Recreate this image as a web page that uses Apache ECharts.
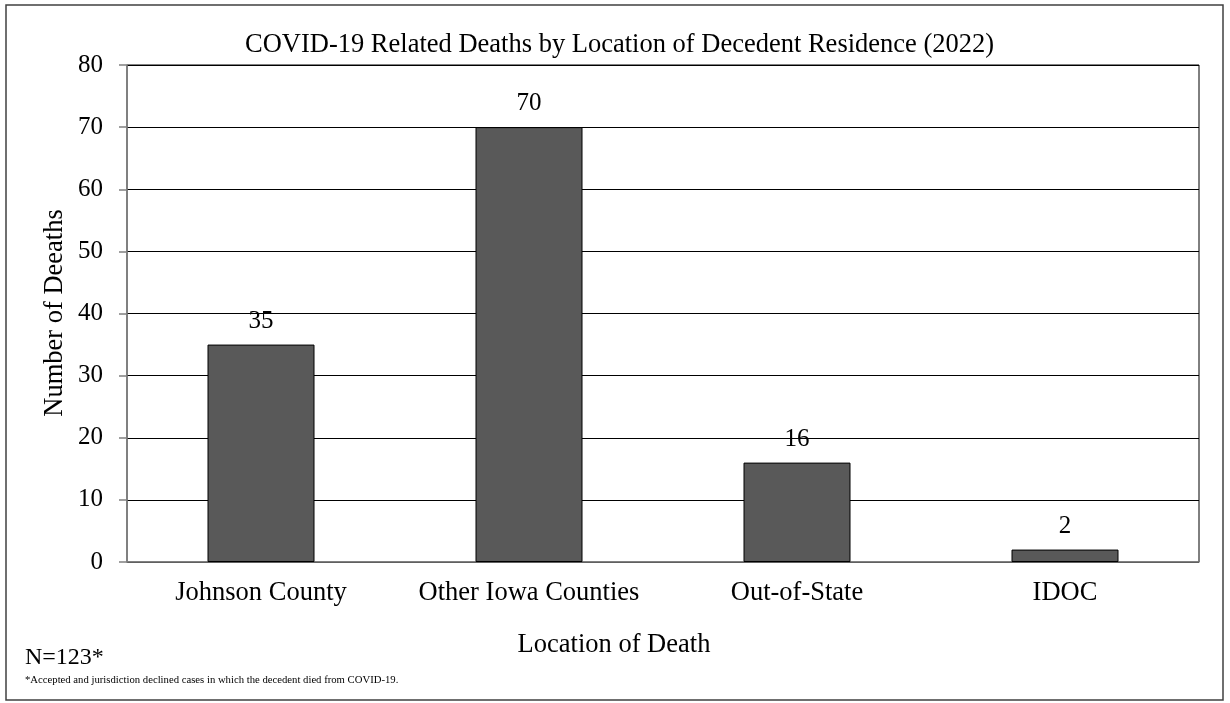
<!DOCTYPE html>
<html>
<head>
<meta charset="utf-8">
<script src="https://cdn.jsdelivr.net/npm/echarts@6/dist/echarts.min.js"></script>
<style>
  html, body { margin: 0; padding: 0; background: #fff; }
  #chart { width: 1230px; height: 703px; }
</style>
</head>
<body>
<div id="chart"></div>
<script>
const categories = ["Johnson County", "Other Iowa Counties", "Out-of-State", "IDOC"];
const deaths = [35, 70, 16, 2];
const yTicks = { min: 0, max: 80, interval: 10 };

const font = "'Liberation Serif', 'Times New Roman', serif";
const myChart = echarts.init(document.getElementById("chart"));
const option = {
  animation: false,
  backgroundColor: "#fff",
  title: {
    text: "COVID-19 Related Deaths by Location of Decedent Residence (2022)",
    left: 240,
    top: 27,
    textStyle: { fontFamily: font, fontSize: 26.5, fontWeight: "normal", color: "#000" }
  },
  grid: {
    left: 127,
    right: 31,
    top: 65,
    bottom: 141,
    show: true,
    borderColor: "#000",
    borderWidth: 1
  },
  xAxis: {
    type: "category",
    data: categories,
    axisLine: { lineStyle: { color: "#808080", width: 1.5 } },
    axisTick: { show: false },
    axisLabel: {
      interval: 0,
      hideOverlap: false,
      margin: 18,
      fontFamily: font,
      fontSize: 26.5,
      color: "#000"
    }
  },
  yAxis: {
    type: "value",
    min: yTicks.min,
    max: yTicks.max,
    interval: yTicks.interval,
    axisLine: { show: true, lineStyle: { color: "#808080", width: 1.5 } },
    axisTick: { show: true, length: 8, lineStyle: { color: "#808080", width: 1.5 } },
    axisLabel: { margin: 24, fontFamily: font, fontSize: 25, color: "#000" },
    splitLine: { show: true, lineStyle: { color: "#000", width: 1 } }
  },
  series: [{
    type: "bar",
    data: deaths,
    barWidth: 107,
    itemStyle: { color: "#595959", borderColor: "#000", borderWidth: 1 },
    label: {
      show: true,
      position: "top",
      distance: 11,
      fontFamily: font,
      fontSize: 25,
      color: "#000"
    }
  }],
  graphic: [
    {
      type: "rect",
      shape: { x: 6, y: 5, width: 1217, height: 695 },
      style: { fill: "none", stroke: "#404040", lineWidth: 1.5 },
      silent: true
    },
    {
      type: "text",
      x: 55, y: 313,
      rotation: Math.PI / 2,
      style: {
        text: "Number of Deeaths",
        font: "26.5px " + font,
        fill: "#000",
        align: "center",
        verticalAlign: "middle"
      }
    },
    {
      type: "text",
      x: 614, y: 645,
      style: {
        text: "Location of Death",
        font: "26.5px " + font,
        fill: "#000",
        align: "center",
        verticalAlign: "middle"
      }
    },
    {
      type: "text",
      x: 25, y: 658,
      style: {
        text: "N=123*",
        font: "24px " + font,
        fill: "#000",
        verticalAlign: "middle"
      }
    },
    {
      type: "text",
      x: 25, y: 680,
      style: {
        text: "*Accepted and jurisdiction declined cases in which the decedent died from COVID-19.",
        font: "10.7px " + font,
        fill: "#000",
        verticalAlign: "middle"
      }
    }
  ]
};
myChart.setOption(option);
window.addEventListener("resize", () => {
  myChart.resize();
});
</script>
</body>
</html>
